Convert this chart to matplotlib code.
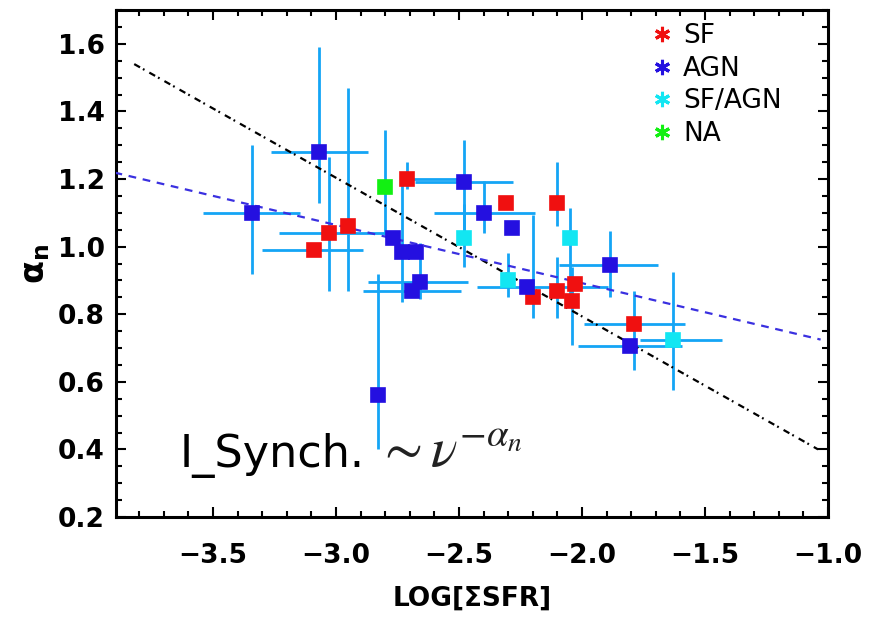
import numpy as np
import matplotlib.pyplot as plt
from matplotlib.lines import Line2D
from matplotlib.ticker import MultipleLocator

# spectral index vs. star formation surface density, by classification
sf_x = [-3.03, -2.95, -3.09, -2.71, -2.31, -2.10, -2.20, -2.10, -2.03, -2.04, -1.79]
sf_y = [1.04, 1.06, 0.99, 1.20, 1.13, 1.13, 0.85, 0.87, 0.89, 0.84, 0.77]
sf_xlo = [0.20, 0.00, 0.21, 0.00, 0.00, 0.00, 0.00, 0.00, 0.00, 0.00, 0.20]
sf_xhi = [0.23, 0.00, 0.20, 0.22, 0.00, 0.00, 0.00, 0.00, 0.00, 0.00, 0.21]
sf_ylo = [0.17, 0.19, 0.00, 0.03, 0.00, 0.07, 0.06, 0.08, 0.00, 0.13, 0.135]
sf_yhi = [0.225, 0.41, 0.00, 0.05, 0.00, 0.12, 0.245, 0.10, 0.00, 0.10, 0.10]

agn_x = [-3.34, -3.07, -2.77, -2.73, -2.675, -2.69, -2.66, -2.48, -2.40, -2.285, -1.885, -2.225, -1.805, -2.83]
agn_y = [1.10, 1.28, 1.025, 0.985, 0.985, 0.87, 0.895, 1.19, 1.10, 1.055, 0.945, 0.88, 0.705, 0.56]
agn_xlo = [0.20, 0.195, 0.00, 0.00, 0.00, 0.20, 0.21, 0.20, 0.20, 0.00, 0.21, 0.20, 0.21, 0.00]
agn_xhi = [0.195, 0.20, 0.00, 0.00, 0.00, 0.20, 0.195, 0.20, 0.21, 0.00, 0.195, 0.33, 0.21, 0.00]
agn_ylo = [0.18, 0.15, 0.00, 0.15, 0.00, 0.00, 0.05, 0.17, 0.06, 0.00, 0.095, 0.00, 0.00, 0.16]
agn_yhi = [0.20, 0.31, 0.00, 0.21, 0.00, 0.00, 0.115, 0.125, 0.095, 0.00, 0.10, 0.00, 0.00, 0.36]

mix_x = [-2.48, -2.05, -2.30, -1.63]
mix_y = [1.025, 1.025, 0.90, 0.725]
mix_xlo = [0.00, 0.00, 0.00, 0.135]
mix_xhi = [0.00, 0.00, 0.00, 0.20]
mix_ylo = [0.085, 0.20, 0.05, 0.15]
mix_yhi = [0.10, 0.09, 0.08, 0.20]

na_x = [-2.80]
na_y = [1.175]
na_ylo = [0.14]
na_yhi = [0.17]

# linear fits (end points)
fit_all_x = [-3.82, -1.04]
fit_all_y = [1.54, 0.40]
fit_agn_x = [-3.90, -1.03]
fit_agn_y = [1.219, 0.725]

groups = [
    ("SF", sf_x, sf_y, sf_xlo, sf_xhi, sf_ylo, sf_yhi, "#f01010"),
    ("AGN", agn_x, agn_y, agn_xlo, agn_xhi, agn_ylo, agn_yhi, "#2410e0"),
    ("SF/AGN", mix_x, mix_y, mix_xlo, mix_xhi, mix_ylo, mix_yhi, "#12e6f2"),
    ("NA", na_x, na_y, [0.0], [0.0], na_ylo, na_yhi, "#12f012"),
]
err_color = "#14a5f5"

fig = plt.figure(figsize=(8.69, 6.17), dpi=100)
ax = fig.add_axes([0.1335, 0.162, 0.8193, 0.8218])

for name, x, y, xlo, xhi, ylo, yhi, c in groups:
    ax.errorbar(x, y, xerr=[xlo, xhi], yerr=[ylo, yhi], fmt="none",
                ecolor=err_color, elinewidth=2.0, capsize=0, zorder=2)

ax.plot(fit_all_x, fit_all_y, color="black", lw=1.6,
        linestyle=(0, (3, 1.5, 0.8, 2.5)), zorder=3)
ax.plot(fit_agn_x, fit_agn_y, color="#3a30e0", lw=1.6,
        linestyle=(0, (3.5, 3)), zorder=3)

for name, x, y, xlo, xhi, ylo, yhi, c in groups:
    ax.plot(x, y, "s", ms=9.5, color=c, mec=c, mew=1.2, zorder=4)

ax.set_xlim(-3.894, -1.0)
ax.set_ylim(0.2, 1.7)
ax.xaxis.set_major_locator(MultipleLocator(0.5))
ax.xaxis.set_minor_locator(MultipleLocator(0.1))
ax.yaxis.set_major_locator(MultipleLocator(0.2))
ax.yaxis.set_minor_locator(MultipleLocator(0.05))
ax.tick_params(which="both", direction="in", top=True, right=True, width=1.5)
ax.tick_params(which="major", length=7)
ax.tick_params(which="minor", length=4)
ax.tick_params(axis="x", pad=19)
ax.tick_params(axis="y", pad=8)
for lab in ax.get_xticklabels() + ax.get_yticklabels():
    lab.set_fontsize(19)
    lab.set_fontweight("bold")
for sp in ax.spines.values():
    sp.set_linewidth(2.2)

ax.set_xlabel("LOG[ΣSFR]", fontsize=19, fontweight="bold", labelpad=12)
ax.set_ylabel(r"$\mathbf{\alpha_n}$", fontsize=24, labelpad=4)

handles = [Line2D([], [], ls="none", marker=(6, 2, 0), ms=11, mew=2.2,
                  color=g[7]) for g in groups]
ax.legend(handles, [g[0] for g in groups], loc="upper left",
          bbox_to_anchor=(0.75, 0.974), frameon=False, fontsize=19,
          handlelength=0.9, handletextpad=0.35, labelspacing=0.25,
          borderpad=0, borderaxespad=0)

ax.text(0.09, 0.099, "I_Synch.", transform=ax.transAxes, fontsize=32,
        family="DejaVu Sans", va="baseline", ha="left", zorder=5)
ax.text(0.365, 0.099, r"$\sim\nu^{-\alpha_n}$", transform=ax.transAxes,
        fontsize=40, math_fontfamily="stix", color="#222222",
        va="baseline", ha="left", zorder=5)

fig.savefig("out.png", dpi=100)
